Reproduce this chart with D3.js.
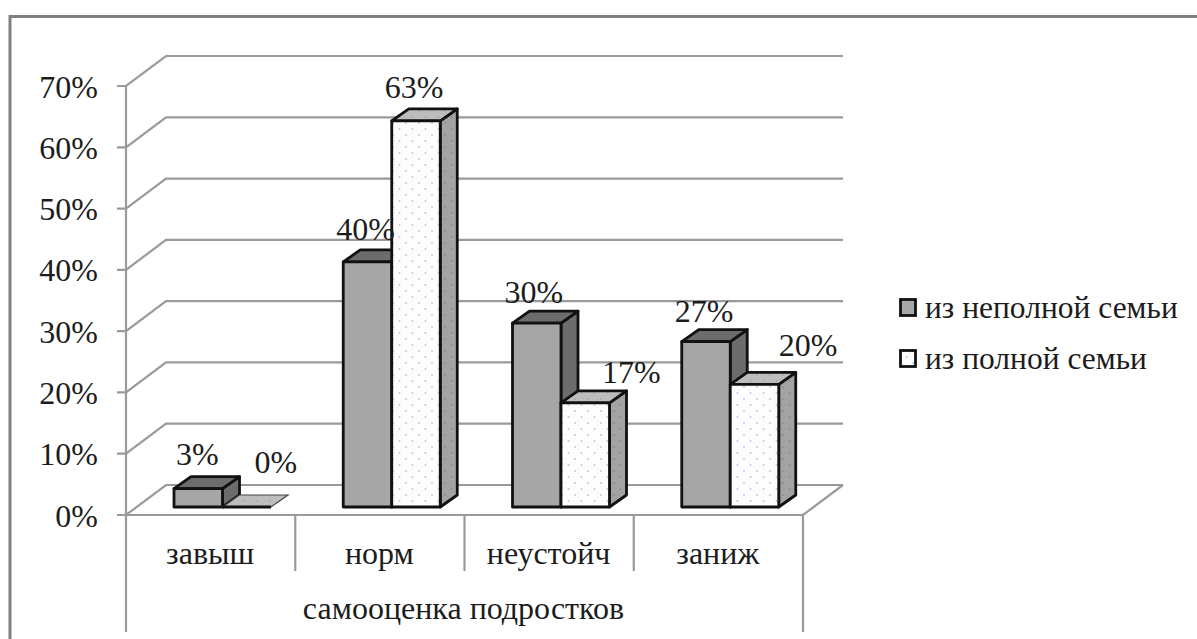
<!DOCTYPE html>
<html>
<head>
<meta charset="utf-8">
<script src="https://cdnjs.cloudflare.com/ajax/libs/d3/7.8.5/d3.min.js"></script>
<style>
html,body{margin:0;padding:0;background:#fff;}
svg{display:block;}
text{font-family:"Liberation Serif","Times New Roman",serif;fill:#1c1c1c;}
</style>
</head>
<body>
<svg id="chart" width="1197" height="639"></svg>
<script>
const categories = ["завыш", "норм", "неустойч", "заниж"];
const seriesNames = ["из неполной семьи", "из полной семьи"];
const incompleteFamily = [3, 40, 30, 27];
const completeFamily = [0, 63, 17, 20];
const percentTicks = [0, 10, 20, 30, 40, 50, 60, 70];
const axisTitle = "самооценка подростков";

// Hand-placed label offsets from the top-centre of each bar, one pair per bar.
const incompleteNudges = [[-1, -12], [-2, -10], [-3, -8], [-2, -8]];
const completeNudges = [[29, -22], [-2, -11], [46, -8], [53.5, -16]];

const svg = d3.select("#chart");
const GRID = "#9a9a9a", INK = "#111";

const defs = svg.append("defs");
function dots(id, bg, dot) {
  const p = defs.append("pattern").attr("id", id).attr("patternUnits", "userSpaceOnUse")
    .attr("width", 13).attr("height", 12);
  p.append("rect").attr("width", 13).attr("height", 12).attr("fill", bg);
  p.append("circle").attr("cx", 3).attr("cy", 3).attr("r", 1).attr("fill", dot);
  p.append("circle").attr("cx", 9.5).attr("cy", 9).attr("r", 1).attr("fill", dot);
}
dots("dotsFront", "#fdfdfd", "#bccbe4");
dots("dotsTop", "#bdbdbd", "#a9a9a9");
dots("dotsSide", "#a3a3a3", "#8d8d8d");

// Oblique projection: the back wall sits up and to the right of the front plane.
const wallDx = 40, wallDy = -30;
const barDx = 17, barDy = -12;

const frontY = d3.scaleLinear().domain([0, 70]).range([515, 86]);
const x = d3.scaleBand().domain(categories).range([126, 803]);
const inner = d3.scaleBand().domain([0, 1]).range([48, 145]);
const barY = d3.scaleLinear().domain([0, 70]).range([507, 507 - 429]);

// outer frame
svg.append("path").attr("d", "M10,639V16.5H1197").attr("fill", "none")
  .attr("stroke", "#808080").attr("stroke-width", 3);

// back wall and side wall rules
const grid = svg.append("g").attr("stroke", GRID).attr("stroke-width", 2.2).attr("fill", "none");
percentTicks.forEach(t => {
  const y = frontY(t);
  grid.append("path").attr("d", d3.line()([
    [117, y], [126, y], [126 + wallDx, y + wallDy], [803 + wallDx, y + wallDy]
  ]));
});

// floor edge, axis spine and multi-level category dividers
grid.append("path").attr("d", d3.line()([[126, 515], [803, 515], [803 + wallDx, 515 + wallDy]]));
grid.append("path").attr("d", d3.line()([[126, frontY(70)], [126, 632]]));
grid.append("path").attr("d", d3.line()([[803, 515], [803, 632]]));
categories.slice(1).forEach(c => {
  grid.append("path").attr("d", d3.line()([[x(c), 515], [x(c), 571]]));
});

// tick labels
svg.append("g").selectAll("text").data(percentTicks).join("text")
  .attr("x", 98).attr("y", d => frontY(d) + 11.5).attr("text-anchor", "end")
  .attr("font-size", 32).text(d => d + "%");

// category labels
svg.append("g").selectAll("text").data(categories).join("text")
  .attr("x", d => x(d) + x.bandwidth() / 2 - 0.5).attr("y", 564).attr("text-anchor", "middle")
  .attr("font-size", 32).text(d => d);
svg.append("text").attr("x", 463.5).attr("y", 619).attr("text-anchor", "middle")
  .attr("font-size", 32).text(axisTitle);

function drawBar(g, x0, w, value, style) {
  const yTop = barY(value), yBase = barY(0);
  const edge = p => g.append("path").attr("d", d3.line()(p) + "Z")
    .attr("stroke", INK).attr("stroke-width", 2.8).attr("stroke-linejoin", "round");
  edge([[x0 + w, yBase], [x0 + w + barDx, yBase + barDy], [x0 + w + barDx, yTop + barDy], [x0 + w, yTop]])
    .attr("fill", style.side);
  edge([[x0, yTop], [x0 + barDx, yTop + barDy], [x0 + w + barDx, yTop + barDy], [x0 + w, yTop]])
    .attr("fill", style.top);
  edge([[x0, yBase], [x0, yTop], [x0 + w, yTop], [x0 + w, yBase]])
    .attr("fill", style.front);
}

const styles = [
  { front: "#a6a6a6", top: "#6c6c6c", side: "#6c6c6c" },
  { front: "url(#dotsFront)", top: "url(#dotsTop)", side: "url(#dotsSide)" }
];

const bars = svg.append("g");
categories.forEach((c, i) => {
  [incompleteFamily, completeFamily].forEach((series, s) => {
    const x0 = x(c) + inner(s), w = inner.bandwidth();
    if (series[i] === 0) {
      // a zero-height bar leaves only its flat top, with a lighter outline
      const yb = barY(0);
      bars.append("path").attr("d", d3.line()([[x0, yb], [x0 + barDx, yb + barDy], [x0 + w + barDx, yb + barDy], [x0 + w, yb]]) + "Z")
        .attr("fill", "url(#dotsTop)").attr("stroke", "#444").attr("stroke-width", 1.2);
      bars.append("path").attr("d", d3.line()([[x0, yb], [x0 + w, yb]]))
        .attr("stroke", INK).attr("stroke-width", 2.8);
    } else {
      drawBar(bars, x0, w, series[i], styles[s]);
    }
  });
});

// value labels
const labels = svg.append("g").attr("font-size", 32).attr("text-anchor", "middle");
categories.forEach((c, i) => {
  [[incompleteFamily, incompleteNudges, 0], [completeFamily, completeNudges, 1]].forEach(([vals, nudge, s]) => {
    labels.append("text")
      .attr("x", x(c) + inner(s) + inner.bandwidth() / 2 + nudge[i][0])
      .attr("y", barY(vals[i]) + barDy + nudge[i][1])
      .text(vals[i] + "%");
  });
});

// legend
const legend = svg.append("g");
seriesNames.forEach((name, i) => {
  const cy = [307.5, 358.5][i];
  legend.append("rect").attr("x", 900.5).attr("y", cy - 8).attr("width", 15).attr("height", 16)
    .attr("fill", i ? "url(#dotsFront)" : "#a6a6a6").attr("stroke", INK).attr("stroke-width", 2.8);
  legend.append("text").attr("x", 925).attr("y", cy + 10.5).attr("font-size", 31.5).text(name);
});
</script>
</body>
</html>
